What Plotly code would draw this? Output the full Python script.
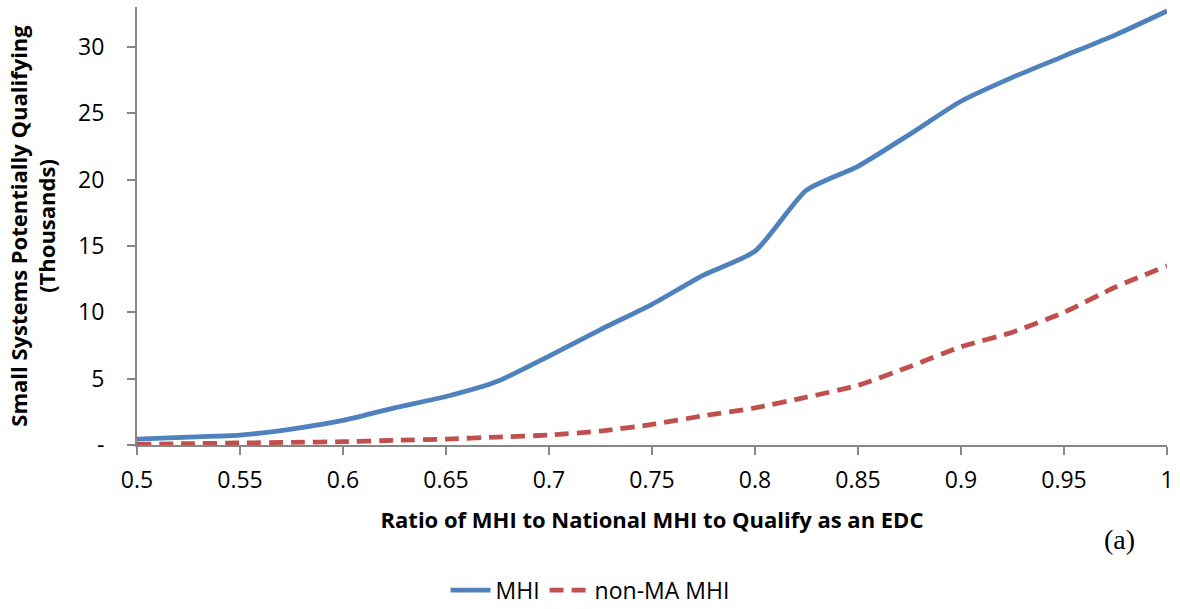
import plotly.graph_objects as go

# Data
ratio = [0.5, 0.525, 0.55, 0.575, 0.6, 0.625, 0.65, 0.675, 0.7, 0.725, 0.75,
         0.775, 0.8, 0.825, 0.85, 0.875, 0.9, 0.925, 0.95, 0.975, 1.0]
mhi = [0.45, 0.6, 0.75, 1.2, 1.85, 2.8, 3.65, 4.8, 6.7, 8.7, 10.6,
       12.8, 14.6, 19.2, 21.0, 23.4, 25.9, 27.7, 29.3, 30.9, 32.7]
non_ma_mhi = [0.05, 0.1, 0.15, 0.2, 0.25, 0.35, 0.45, 0.6, 0.75, 1.05, 1.55,
              2.2, 2.8, 3.6, 4.5, 5.9, 7.4, 8.5, 10.0, 11.9, 13.5]

x_ticks = [0.5, 0.55, 0.6, 0.65, 0.7, 0.75, 0.8, 0.85, 0.9, 0.95, 1.0]
x_tick_labels = ["0.5", "0.55", "0.6", "0.65", "0.7", "0.75", "0.8", "0.85", "0.9", "0.95", "1"]
y_ticks = [0, 5, 10, 15, 20, 25, 30]
y_tick_labels = ["-", "5", "10", "15", "20", "25", "30"]

FONT = "Open Sans"
AXIS_COLOR = "#868686"

fig = go.Figure()
fig.add_trace(go.Scatter(
    x=ratio, y=mhi, mode="lines", name="MHI",
    line=dict(color="#4F81BD", width=4.8, shape="spline", smoothing=0.6),
))
fig.add_trace(go.Scatter(
    x=ratio, y=non_ma_mhi, mode="lines", name="non-MA MHI",
    line=dict(color="#C0504D", width=4.8, shape="spline", smoothing=0.6, dash="14px,8px"),
))

fig.update_layout(
    width=1180, height=609,
    margin=dict(l=137, r=13, t=7, b=164),
    paper_bgcolor="white", plot_bgcolor="white",
    font=dict(family=FONT, color="#000000", size=22),
    showlegend=True,
    legend=dict(
        orientation="h", xref="container", yref="container",
        x=0.5, xanchor="center", y=0.031, yanchor="middle",
        font=dict(family=FONT, size=23), itemwidth=40,
    ),
    xaxis=dict(
        range=[0.5, 1.0], tickmode="array", tickvals=x_ticks, ticktext=x_tick_labels,
        showgrid=False, zeroline=False, showline=True, linecolor=AXIS_COLOR, linewidth=2,
        ticks="outside", ticklen=8, tickwidth=2, tickcolor=AXIS_COLOR,
        tickfont=dict(family=FONT, size=23), ticklabelstandoff=5, automargin=False,
        title=dict(text="<b>Ratio of MHI to National MHI to Qualify as an EDC</b>",
                   font=dict(family=FONT, size=22), standoff=19),
    ),
    yaxis=dict(
        range=[0, 33], tickmode="array", tickvals=y_ticks, ticktext=y_tick_labels,
        showgrid=False, zeroline=False, showline=True, linecolor=AXIS_COLOR, linewidth=2,
        ticks="outside", ticklen=8, tickwidth=2, tickcolor=AXIS_COLOR,
        tickfont=dict(family=FONT, size=23), ticklabelstandoff=18, automargin=False,
        title=dict(text="<b>Small Systems Potentially Qualifying<br>(Thousands)</b>",
                   font=dict(family=FONT, size=22), standoff=16),
    ),
    annotations=[dict(
        text="(a)", xref="paper", yref="paper", x=0.954, y=-0.216,
        xanchor="center", yanchor="middle", showarrow=False,
        font=dict(family="Liberation Serif", size=28, color="#000000"),
    )],
)

fig.write_html("out.html")
